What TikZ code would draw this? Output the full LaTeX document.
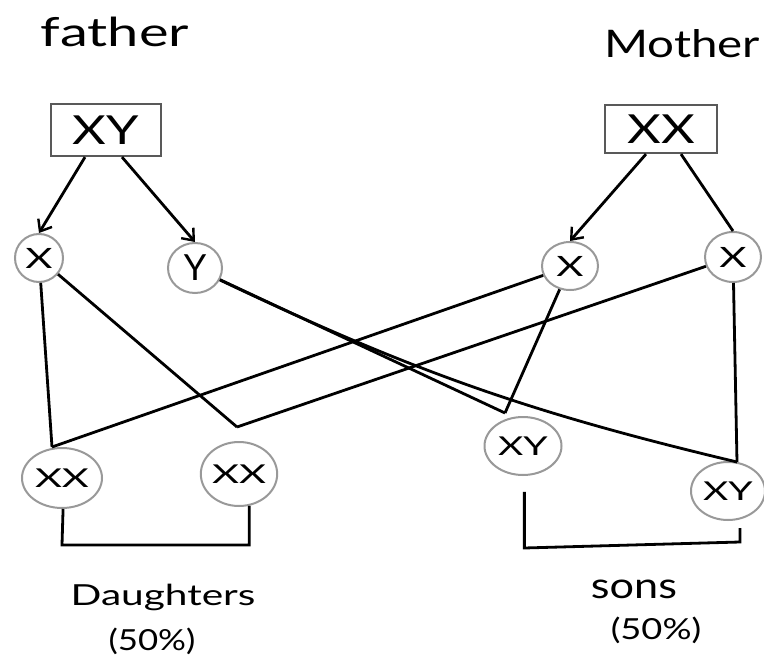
\documentclass[tikz,border=0pt]{standalone}
\usepackage{fontspec}
\usepackage{graphicx}
\setmainfont{Lato}
\usetikzlibrary{shapes.geometric,arrows.meta}
\newcommand{\wide}[2]{\scalebox{#1}[1]{#2}}
\begin{document}
\begin{tikzpicture}[x=1pt,y=-1pt,
  conn/.style={line width=2.8pt, draw=black},
  arr/.style={conn, -{Straight Barb[length=10pt,width=16pt,line width=2.4pt]}},
  gbox/.style={rectangle, draw=black!65, line width=2.2pt, inner sep=0pt},
  cell/.style={ellipse, draw=black!40, line width=2pt, inner sep=0pt},
  ftitle/.style={font=\fontsize{40}{42}\selectfont},
  mtitle/.style={font=\fontsize{38}{40}\selectfont},
  big/.style={font=\fontsize{40}{42}\selectfont},
  gam/.style={font=\fontsize{28}{30}\selectfont},
  kid/.style={font=\fontsize{26}{30}\selectfont},
  captxt/.style={font=\fontsize{29}{31}\selectfont}]
\useasboundingbox[fill=white] (0,0) rectangle (764,666);

% titles
\node[ftitle] (tf) at (115,32) {\wide{1.4}{father}};
\node[mtitle] (tm) at (682,44) {\wide{1.25}{Mother}};

% parents
\node[gbox, minimum width=110pt, minimum height=52pt, big] (fb) at (106,130) {\wide{1.3}{XY}};
\node[gbox, minimum width=112pt, minimum height=48pt, big] (mb) at (661,129) {\wide{1.3}{XX}};

% gametes
\node[cell, minimum width=48pt, minimum height=48pt, gam] (fx) at (39,258) {\wide{1.5}{X}};
\node[cell, minimum width=54pt, minimum height=50pt, font=\fontsize{36}{38}\selectfont] (fy) at (195,268) {Y};
\node[cell, minimum width=56pt, minimum height=48pt, gam] (mx1) at (570,266) {\wide{1.5}{X}};
\node[cell, minimum width=56pt, minimum height=50pt, gam] (mx2) at (733,257) {\wide{1.5}{X}};

% offspring
\node[cell, minimum width=80pt, minimum height=60pt, kid] (d1) at (62,478) {\wide{1.6}{XX}};
\node[cell, minimum width=75pt, minimum height=64pt, kid] (d2) at (239,474) {\wide{1.6}{XX}};
\node[cell, minimum width=77pt, minimum height=58pt, kid] (s1) at (523,446) {\wide{1.5}{XY}};
\node[cell, minimum width=74pt, minimum height=58pt, kid] (s2) at (728,491) {\wide{1.5}{XY}};

% meeting points
\coordinate (d1top) at (52,447);
\coordinate (d2top) at (237,427);
\coordinate (s1top) at (505,413);
\coordinate (s2top) at (737,462);

% arrows from parents to gametes
\draw[arr] (fb.south -| 85,0) -- (fx.north);
\draw[arr] (fb.south -| 122,0) -- (fy.north);
\draw[arr] (mb.south -| 646,0) -- (mx1.north);
\draw[conn] (mb.south -| 681,0) -- (mx2.north);

% crosses
\draw[conn] (fx) -- (d1top);
\draw[conn] (fx) -- (d2top);
\draw[conn] (mx1) -- (d1top);
\draw[conn] (mx2) -- (d2top);
\draw[conn] (fy) -- (s1top);
\draw[conn] (fy) to[bend right=6] (s2top);
\draw[conn] (mx1) -- (s1top);
\draw[conn] (mx2) -- (s2top);

% brackets
\draw[conn] (d1.-88) -- (d1.south |- 0,545) coordinate (db1) -- (db1 -| d2.-72) -- (d2.-72);
\draw[conn] (s1.-95) ++(4,16) coordinate (sb0) -- (sb0 |- 0,548) coordinate (sb1) -- (740,542) coordinate (sb2) -- (740,528);

% captions
\node[captxt] (dl) at (163,597) {\wide{1.4}{Daughters}};
\node[captxt] (dp) at (152,641) {\wide{1.2}{(50\%)}};
\node[font=\fontsize{36}{38}\selectfont] (sl) at (634,589) {\wide{1.2}{sons}};
\node[captxt] (sp) at (656,630) {\wide{1.25}{(50\%)}};
\end{tikzpicture}
\end{document}
